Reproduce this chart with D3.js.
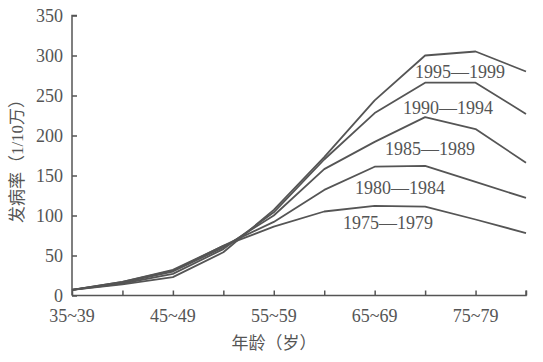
<!DOCTYPE html>
<html>
<head>
<meta charset="utf-8">
<script src="https://cdn.jsdelivr.net/npm/d3@7"></script>
<style>
  body { margin: 0; background: #fff; }
  text { font-family: "Liberation Serif", "Noto Sans CJK SC", serif; fill: #555; }
</style>
</head>
<body>
<svg id="chart" width="543" height="362"></svg>
<script>
// age groups (x), only every other one is labelled
const ages = ["35~39", "40~44", "45~49", "50~54", "55~59", "60~64", "65~69", "70~74", "75~79", "80~84"];
const shownAges = ["35~39", "45~49", "55~59", "65~69", "75~79"];
const yTicks = [0, 50, 100, 150, 200, 250, 300, 350];

// incidence per 100k
const periods = ["1975—1979", "1980—1984", "1985—1989", "1990—1994", "1995—1999"];
const rate7579 = [7, 17, 32, 62, 86, 105, 112, 111, 95, 78];
const rate8084 = [7, 17, 31, 62, 92, 132, 161, 162, 142, 122];
const rate8589 = [7, 16, 30, 60, 100, 158, 192, 223, 208, 166];
const rate9094 = [7, 15, 27, 58, 104, 170, 228, 266, 266, 227];
const rate9599 = [7, 14, 23, 54, 107, 173, 244, 300, 305, 280];
const series = [rate7579, rate8084, rate8589, rate9094, rate9599];

const svg = d3.select("#chart");
const color = "#555";

const x = d3.scalePoint().domain(ages).range([72, 526]);
const y = d3.scaleLinear().domain([0, 350]).range([295.5, 15.5]);

// y axis, ticks point inward
const yAxis = svg.append("g")
    .attr("transform", "translate(72,0)")
    .call(d3.axisRight(y).tickValues(yTicks).tickSize(5).tickFormat(""));
yAxis.select(".domain").attr("d", "M5,15.5H0V295.5").attr("stroke", color).attr("stroke-width", 1.5);
yAxis.selectAll(".tick line").attr("stroke", color).attr("stroke-width", 1.5);

svg.append("g").selectAll("text")
    .data(yTicks)
    .join("text")
    .attr("x", 63)
    .attr("y", d => y(d))
    .attr("dy", "0.35em")
    .attr("text-anchor", "end")
    .style("font-size", "18px")
    .text(d => d);

// x axis, ticks point up into the plot
const xAxis = svg.append("g")
    .attr("transform", "translate(0,295.5)")
    .call(d3.axisTop(x).tickSize(5).tickFormat(""));
xAxis.select(".domain").attr("d", "M72,0H526V-5").attr("stroke", color).attr("stroke-width", 1.5);
xAxis.selectAll(".tick line").attr("stroke", color).attr("stroke-width", 1.5);

svg.append("g").selectAll("text")
    .data(shownAges)
    .join("text")
    .attr("x", d => x(d))
    .attr("y", 322)
    .attr("text-anchor", "middle")
    .style("font-size", "18px")
    .text(d => d);

// lines
const line = d3.line()
    .x((d, i) => x(ages[i]))
    .y(d => y(d));

svg.append("g").selectAll("path")
    .data(series)
    .join("path")
    .attr("d", line)
    .attr("fill", "none")
    .attr("stroke", color)
    .attr("stroke-width", 1.8)
    .attr("stroke-linejoin", "round");

// period labels
const labelPos = [[388, 229], [400, 194], [430, 155], [448, 114], [460, 78]];
svg.append("g").selectAll("text")
    .data(periods)
    .join("text")
    .attr("x", (d, i) => labelPos[i][0])
    .attr("y", (d, i) => labelPos[i][1])
    .attr("text-anchor", "middle")
    .style("font-size", "18px")
    .text(d => d);

// axis titles
svg.append("text")
    .attr("x", 274)
    .attr("y", 349)
    .attr("text-anchor", "middle")
    .style("font-size", "17px")
    .text("年龄（岁）");

svg.append("text")
    .attr("transform", "translate(23,157) rotate(-90)")
    .attr("text-anchor", "middle")
    .style("font-size", "17px")
    .text("发病率（1/10万）");
</script>
</body>
</html>
